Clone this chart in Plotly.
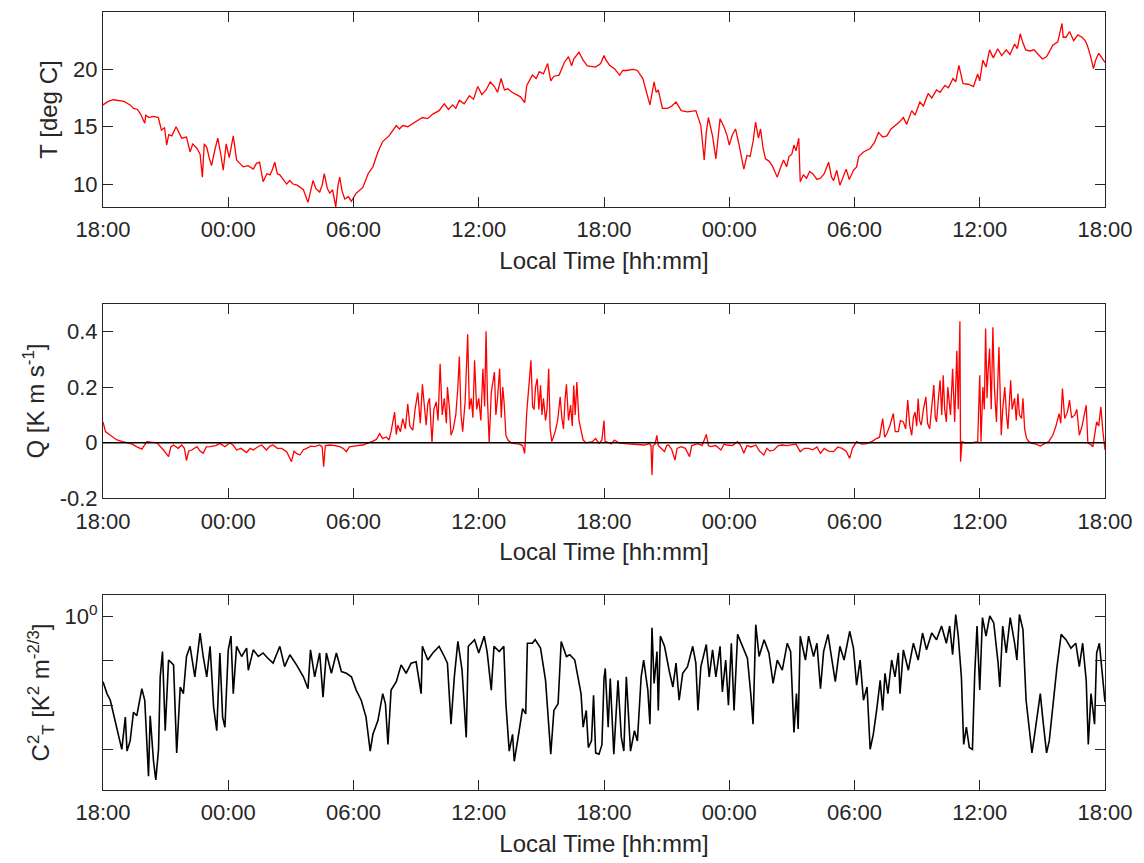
import plotly.graph_objects as go
from plotly.subplots import make_subplots

# ---------------- data (hours since 18:00 of day 1) ----------------
tick_hours = [0, 6, 12, 18, 24, 30, 36, 42, 48]
tick_labels = ["18:00", "00:00", "06:00", "12:00", "18:00", "00:00", "06:00", "12:00", "18:00"]

t_T = [0, 0.25, 0.5, 0.75, 1.0, 1.3, 1.46, 1.65, 1.8, 2.0, 2.05, 2.2, 2.4, 2.65, 2.8, 2.95, 3.05, 3.15, 3.3, 3.5,
       3.6, 3.77, 4.0, 4.17, 4.3, 4.5, 4.65, 4.76, 4.85, 4.97, 5.1, 5.2, 5.35, 5.5, 5.65, 5.76, 5.9, 6.05, 6.24, 6.4,
       6.55, 6.72, 6.95, 7.2, 7.35, 7.5, 7.67, 7.85, 8.0, 8.1, 8.23, 8.35, 8.47, 8.65, 8.8, 8.95, 9.1, 9.3, 9.43, 9.6,
       9.82, 9.95, 10.06, 10.2, 10.38, 10.5, 10.6, 10.75, 10.86, 11.0, 11.15, 11.25, 11.34, 11.45, 11.58, 11.75, 11.9,
       12.13, 12.45, 12.7, 12.93, 13.17, 13.4, 13.7, 14.05, 14.2, 14.36, 14.6, 14.84, 15.05, 15.3, 15.55, 15.8, 16.1,
       16.35, 16.55, 16.75, 16.9, 17.07, 17.3, 17.55, 17.75, 17.95, 18.15, 18.35, 18.55, 18.75, 18.9, 19.07, 19.23,
       19.4, 19.6, 19.8, 20.0, 20.2, 20.3, 20.57, 20.75, 20.9, 21.1, 21.3, 21.45, 21.6, 21.85, 22.1, 22.3, 22.45, 22.55,
       22.8, 23.0, 23.2, 23.6, 23.84, 24.0,
       24.1, 24.27, 24.5, 24.75, 24.9, 25.07, 25.4, 25.6, 25.86, 26.0, 26.2, 26.4, 26.5, 26.6, 26.8, 27.05, 27.25,
       27.45, 27.7, 28.0, 28.4, 28.64, 28.8, 28.9, 29.0, 29.2, 29.36, 29.56, 29.75, 29.9, 30.0, 30.15, 30.3, 30.45,
       30.55, 30.7, 30.85, 31.0, 31.15, 31.26, 31.4, 31.5, 31.62, 31.74, 31.9, 32.06, 32.2, 32.3, 32.45, 32.6, 32.75,
       32.86, 33.0, 33.1, 33.2, 33.33, 33.4, 33.55, 33.7, 33.85, 34.0, 34.2, 34.37, 34.55, 34.76, 34.9, 35.0, 35.15,
       35.3, 35.45, 35.6, 35.75, 35.95, 36.1, 36.2, 36.43, 36.75, 36.95, 37.15, 37.35, 37.55, 37.75, 37.94, 38.15,
       38.34, 38.5, 38.74, 38.9, 39.13, 39.3, 39.53, 39.7, 39.93, 40.1, 40.33, 40.5, 40.72, 40.85, 41.0, 41.2, 41.45,
       41.7, 41.9, 42.0, 42.15, 42.3, 42.47, 42.65, 42.86, 43.05, 43.27, 43.45, 43.67, 43.8, 43.94, 44.05, 44.2, 44.4,
       44.6, 44.8, 45.0, 45.2, 45.5, 45.74, 45.94, 46.0, 46.13, 46.3, 46.5, 46.7, 46.9, 47.05, 47.15, 47.3, 47.45,
       47.55, 47.7, 47.85, 48.0]
temp_c = [16.9, 17.2, 17.35, 17.3, 17.2, 16.9, 16.6, 16.5, 16.1, 15.3, 16.0, 15.8, 15.9, 15.8, 14.7, 14.9, 13.4, 14.3,
          14.2, 15.0, 14.6, 14.0, 14.1, 12.8, 13.5, 13.1, 12.6, 10.6, 13.5, 13.2, 12.2, 11.6, 12.9, 14.0, 12.5, 11.2,
          13.5, 12.3, 14.2, 12.1, 11.8, 11.5, 11.6, 11.3, 11.8, 11.9, 10.2, 10.9, 10.8, 11.2, 11.9, 10.9, 10.8, 10.3,
          10.0, 10.3, 10.0, 9.9, 9.7, 9.5, 8.4, 9.6, 10.3, 9.6, 9.3, 9.9, 10.9, 9.6, 9.2, 9.5, 8.0, 9.8, 10.6, 9.4,
          8.7, 8.9, 8.5, 9.2, 9.7, 10.9, 11.5, 12.8, 13.7, 14.2, 15.1, 14.8, 15.1, 15.0, 15.3, 15.5, 15.8, 15.7, 16.1,
          16.4, 17.0, 16.5, 16.9, 16.6, 17.3, 17.0, 17.7, 17.4, 18.5, 17.8, 18.2, 18.9, 18.5, 18.0, 19.2, 18.2, 18.3,
          18.0, 17.8, 17.6, 17.1, 18.6, 19.5, 19.2, 19.8, 19.6, 20.5, 19.0, 19.4, 19.5, 20.6, 21.1, 20.3, 20.9, 21.5,
          20.8, 20.3, 20.2, 20.5, 21.2,
          20.8, 20.35, 20.06, 19.5, 19.9, 19.9, 20.0, 19.9, 19.2, 18.3, 16.9, 18.9, 18.0, 18.2, 16.6, 16.6, 16.8,
          17.15, 16.4, 16.3, 16.4, 15.1, 12.1, 14.5, 15.8, 14.2, 12.2, 15.7, 14.97, 14.2, 13.4, 14.3, 14.8, 13.6, 12.6,
          11.3, 12.5, 12.4, 13.8, 15.4, 14.0, 14.8, 13.1, 12.2, 12.0, 11.6, 11.0, 10.6, 11.4, 12.1, 11.5, 12.4, 12.6,
          13.4, 12.9, 14.0, 10.2, 10.8, 10.5, 11.1, 10.9, 10.4, 10.5, 10.9, 11.9, 10.6, 10.3, 11.2, 9.9, 10.6, 11.3,
          10.4, 11.2, 11.5, 12.4, 12.8, 13.1, 13.6, 14.5, 14.1, 14.2, 14.8, 15.1, 15.4, 15.8, 15.2, 16.4, 16.0, 17.15,
          16.8, 17.9, 17.5, 18.2, 18.0, 18.6, 18.4, 19.2, 18.9, 20.35, 18.75, 18.7, 18.5, 19.6, 19.0, 20.8, 20.2, 21.7,
          21.0, 21.8, 21.2, 21.7, 21.3, 22.2, 21.8, 23.1, 22.4, 21.7, 21.6, 21.7, 21.3, 20.9, 21.1, 22.1, 22.4, 24.0,
          22.8, 22.8, 23.3, 22.5, 23.0, 22.8, 22.5, 22.1, 21.2, 20.06, 20.8, 21.4, 21.0, 20.6]

t_Q = [0, 0.12, 0.35, 0.67, 0.9, 1.15, 1.4, 1.6, 1.86, 2.1, 2.58, 2.9, 3.14, 3.25, 3.38, 3.6, 3.77, 3.9, 4.0, 4.1,
       4.25, 4.5, 4.65, 4.8, 4.95, 5.13, 5.4, 5.6, 5.84, 6.08, 6.25, 6.4, 6.6, 6.88, 7.05, 7.2, 7.4, 7.6, 7.83, 8.0,
       8.15, 8.35, 8.55, 8.8, 9.03, 9.15, 9.27, 9.43, 9.6, 9.75, 9.95, 10.14, 10.38, 10.5, 10.57, 10.65, 10.86, 11.1,
       11.34, 11.5, 11.66, 11.8, 11.97, 12.2, 12.45, 12.7, 12.93, 13.1, 13.25, 13.4, 13.57, 13.7, 13.8, 13.97, 14.05,
       14.12, 14.25, 14.36, 14.48, 14.6, 14.7, 14.84, 14.95, 15.08, 15.2, 15.3, 15.4, 15.48, 15.56, 15.64, 15.76, 15.85,
       15.96, 16.05, 16.15, 16.25, 16.35, 16.45, 16.5, 16.6, 16.67, 16.78, 16.9, 17.0, 17.07, 17.15, 17.23, 17.35,
       17.47, 17.55, 17.64, 17.72, 17.8, 17.9, 18.0, 18.1, 18.2, 18.28, 18.35, 18.42, 18.5, 18.6, 18.75, 18.82, 18.9,
       19.0, 19.08, 19.15, 19.22, 19.3, 19.4, 19.55, 19.75, 19.94, 20.1, 20.2, 20.3, 20.4, 20.5, 20.58, 20.65, 20.72,
       20.8, 20.88, 20.96, 21.03, 21.1, 21.2, 21.27, 21.35, 21.42, 21.5, 21.58, 21.66, 21.78, 21.9, 21.98, 22.06,
       22.13, 22.2, 22.3, 22.4, 22.48, 22.55, 22.62, 22.7, 22.8, 22.9, 23.0, 23.13, 23.3, 23.44, 23.6, 23.76, 23.9,
       24.0,
       24.05, 24.2, 24.35, 24.5, 24.7, 25.0, 25.46, 25.94, 26.18, 26.25, 26.3, 26.35, 26.45, 26.53, 26.6, 26.75, 26.9,
       27.0, 27.1, 27.25, 27.4, 27.5, 27.7, 27.9, 28.1, 28.2, 28.5, 28.7, 28.9, 29.0, 29.1, 29.35, 29.6, 29.75, 29.9,
       30.15, 30.4, 30.55, 30.7, 30.85, 31.05, 31.27, 31.45, 31.66, 31.8, 31.95, 32.14, 32.35, 32.54, 32.75, 33.0,
       33.2, 33.4, 33.6, 33.8, 34.0, 34.2, 34.37, 34.55, 34.75, 35.0, 35.2, 35.4, 35.6, 35.77, 35.9, 36.1, 36.35, 36.6,
       36.85, 37.07, 37.2, 37.35, 37.45, 37.55, 37.7, 37.86, 37.95, 38.1, 38.2, 38.34, 38.45, 38.55, 38.65, 38.74,
       38.82, 38.9, 38.98, 39.05, 39.12, 39.2, 39.3, 39.42, 39.5, 39.6, 39.7, 39.8, 39.87, 39.93, 40.02, 40.1, 40.18,
       40.25, 40.32, 40.4, 40.47, 40.53, 40.6, 40.7, 40.75, 40.8, 40.9, 40.97, 41.05, 41.08, 41.15, 41.3, 41.6, 41.9,
       42.0, 42.06, 42.15, 42.22, 42.28, 42.35, 42.4, 42.47, 42.55, 42.63, 42.7, 42.8, 42.92, 42.98, 43.03, 43.1,
       43.2, 43.28, 43.35, 43.48, 43.55, 43.67, 43.75, 43.83, 43.9, 44.0, 44.07, 44.15, 44.24, 44.35, 44.5, 44.7,
       44.9, 45.1, 45.3, 45.5, 45.65, 45.8, 45.88, 45.96, 46.07, 46.2, 46.3, 46.4, 46.55, 46.65, 46.77, 46.9, 47.0,
       47.1, 47.18, 47.3, 47.42, 47.5, 47.6, 47.7, 47.8, 47.9, 48.0]
q_flux = [0.075, 0.04, 0.027, 0.01, 0.005, 0.0, -0.005, -0.014, -0.023, 0.004, 0.0, -0.026, -0.05, -0.015, -0.008,
          -0.02, -0.008, -0.02, -0.064, -0.03, -0.026, -0.014, -0.03, -0.038, -0.015, -0.014, -0.01, -0.002, -0.014,
          0.0, -0.01, -0.026, -0.02, -0.035, -0.02, -0.026, -0.015, -0.008, -0.026, -0.012, -0.008, -0.02, -0.02,
          -0.032, -0.068, -0.03, -0.038, -0.044, -0.025, -0.02, -0.012, -0.014, -0.008, -0.015, -0.086, -0.01, -0.008,
          -0.01, -0.014, -0.02, -0.032, -0.015, -0.014, -0.01, -0.008, -0.002, 0.006, 0.012, 0.033, 0.015, 0.021,
          0.01, 0.04, 0.11, 0.03, 0.063, 0.04, 0.087, 0.05, 0.14, 0.06, 0.045, 0.12, 0.18, 0.07, 0.21, 0.11, 0.063,
          0.14, 0.16, 0.0, 0.12, 0.147, 0.08, 0.284, 0.1, 0.16, 0.07, 0.2, 0.12, 0.027, 0.05, 0.1, 0.2, 0.31, 0.1,
          0.04, 0.15, 0.39, 0.12, 0.16, 0.09, 0.296, 0.12, 0.16, 0.08, 0.266, 0.13, 0.40, 0.15, 0.0, 0.18, 0.254, 0.1,
          0.16, 0.266, 0.09, 0.2, 0.14, 0.027, 0.01, 0.0, -0.003, -0.005, -0.01, -0.038, 0.11, 0.2, 0.296, 0.13, 0.12,
          0.2, 0.23, 0.12, 0.206, 0.1, 0.16, 0.08, 0.12, 0.266, 0.05, 0.004, 0.02, 0.04, 0.08, 0.165, 0.09, 0.05, 0.15,
          0.21, 0.08, 0.135, 0.06, 0.206, 0.1, 0.218, 0.08, 0.04, 0.01, 0.0, 0.002, 0.004, 0.015, -0.002, 0.01, 0.08,
          0.005, 0.0, -0.003, 0.01, 0.0, -0.003, -0.005, -0.008, -0.003, -0.01, -0.116, -0.01, -0.005, 0.027, -0.01,
          -0.02, -0.032, -0.01, -0.008, -0.025, -0.062, -0.02, -0.014, -0.02, -0.05, -0.01, -0.003, -0.01, 0.03,
          -0.01, -0.014, -0.01, -0.026, -0.005, -0.008, -0.01, 0.004, -0.01, -0.038, -0.01, -0.015, -0.008, -0.03,
          -0.044, -0.02, -0.03, -0.026, -0.01, -0.008, -0.01, -0.008, -0.005, -0.032, -0.02, -0.02, -0.025, -0.015,
          -0.038, -0.02, -0.03, -0.032, -0.015, -0.02, -0.03, -0.056, -0.02, 0.004, -0.005, -0.003, 0.005, 0.016,
          0.02, 0.087, 0.02, 0.033, 0.063, 0.105, 0.04, 0.04, 0.08, 0.075, 0.05, 0.153, 0.06, 0.027, 0.09, 0.11,
          0.06, 0.159, 0.08, 0.063, 0.12, 0.165, 0.07, 0.05, 0.14, 0.207, 0.09, 0.075, 0.16, 0.224, 0.1, 0.242, 0.12,
          0.075, 0.2, 0.159, 0.1, 0.266, 0.12, 0.075, 0.33, 0.12, 0.436, -0.068, 0.004, 0.0, 0.0, 0.004, 0.242, 0.004,
          0.2, 0.12, 0.41, 0.16, 0.255, 0.338, 0.12, 0.415, 0.2, 0.075, 0.344, 0.15, 0.027, 0.12, 0.2, 0.1, 0.05,
          0.224, 0.12, 0.16, 0.08, 0.177, 0.1, 0.087, 0.16, 0.05, 0.016, 0.004, -0.002, -0.005, -0.012, -0.003,
          0.004, 0.027, 0.06, 0.105, 0.07, 0.195, 0.087, 0.11, 0.153, 0.09, 0.1, 0.12, 0.027, 0.06, 0.1, 0.135,
          -0.002, -0.005, -0.014, 0.03, 0.075, 0.06, 0.129, 0.04, -0.026]

t_C = [0, 0.19, 0.35, 0.59, 0.75, 0.9, 1.07, 1.15, 1.3, 1.46, 1.62, 1.86, 2.0, 2.18, 2.26, 2.42, 2.53, 2.66, 2.74,
       2.85, 2.98, 3.14, 3.38, 3.53, 3.7, 3.85, 4.0, 4.17, 4.4, 4.65, 4.8, 4.97, 5.13, 5.3, 5.45, 5.6, 5.73, 5.84,
       6.0, 6.13, 6.24, 6.4, 6.64, 6.88, 6.96, 7.2, 7.44, 7.67, 7.9, 8.15, 8.47, 8.7, 8.95, 9.27, 9.6, 9.82, 9.94,
       10.14, 10.38, 10.54, 10.7, 10.94, 11.18, 11.42, 11.66, 11.9, 12.13, 12.37, 12.6, 12.8, 12.93, 13.17, 13.4,
       13.53, 13.65, 13.8, 14.05, 14.28, 14.52, 14.76, 15.0, 15.24, 15.3, 15.56, 15.8, 16.1, 16.35, 16.5, 16.67,
       16.83, 17.0, 17.2, 17.4, 17.5, 17.8, 18.0, 18.26, 18.4, 18.6, 18.73, 18.98, 19.2, 19.3, 19.46, 19.62, 19.7,
       19.86, 20.0, 20.1, 20.25, 20.33, 20.57, 20.7, 20.96, 21.2, 21.45, 21.6, 21.8, 21.95, 22.2, 22.36, 22.6, 22.73,
       22.9, 23.0, 23.15, 23.25, 23.4, 23.5, 23.6, 23.76, 23.9, 24.0,
       24.06, 24.2, 24.3, 24.47, 24.67, 24.83, 24.95, 25.07, 25.27, 25.46, 25.6, 25.78, 25.9, 26.1, 26.2, 26.3, 26.4,
       26.54, 26.6, 26.7, 26.9, 27.13, 27.3, 27.45, 27.6, 27.77, 28.0, 28.25, 28.4, 28.5, 28.64, 28.9, 29.04, 29.2,
       29.36, 29.56, 29.67, 29.83, 29.96, 30.1, 30.23, 30.4, 30.63, 30.87, 31.03, 31.14, 31.27, 31.43, 31.67, 31.9,
       32.1, 32.3, 32.54, 32.78, 32.94, 33.1, 33.22, 33.3, 33.4, 33.65, 33.8, 34.04, 34.2, 34.37, 34.52, 34.73, 34.92,
       35.08, 35.3, 35.5, 35.77, 35.95, 36.1, 36.27, 36.43, 36.6, 36.75, 36.9, 37.07, 37.23, 37.35, 37.46, 37.6,
       37.78, 37.94, 38.1, 38.18, 38.34, 38.58, 38.82, 39.05, 39.26, 39.45, 39.7, 39.93, 40.17, 40.4, 40.56, 40.7,
       40.85, 40.97, 41.12, 41.23, 41.36, 41.5, 41.65, 41.76, 41.87, 42.0, 42.13, 42.3, 42.48, 42.67, 42.88, 42.96,
       43.1, 43.27, 43.46, 43.67, 43.78, 43.9, 44.07, 44.22, 44.38, 44.5, 44.63, 44.78, 44.9, 45.03, 45.2, 45.33,
       45.5, 45.7, 45.9, 46.13, 46.37, 46.6, 46.77, 46.93, 47.1, 47.2, 47.33, 47.5, 47.6, 47.73, 47.9, 48.0]
ct2_exponent = [-1.47, -1.74, -1.89, -2.35, -2.66, -3.0, -2.27, -3.04, -2.81, -2.16, -2.24, -1.63, -1.89, -3.61,
                -2.24, -3.27, -3.69, -3.0, -1.36, -0.79, -2.58, -0.98, -1.09, -3.08, -1.59, -1.74, -0.9, -0.67,
                -1.36, -0.37, -0.9, -1.36, -0.67, -2.05, -2.58, -0.82, -2.27, -2.5, -0.75, -0.44, -1.74, -0.67,
                -0.9, -0.71, -1.21, -0.75, -0.9, -0.82, -0.94, -1.05, -0.67, -1.13, -0.86, -1.09, -1.36, -1.63,
                -0.75, -1.36, -0.82, -1.82, -0.82, -1.28, -0.82, -1.24, -1.28, -1.36, -1.66, -1.89, -2.27, -3.04,
                -2.66, -2.35, -1.74, -1.97, -2.89, -1.66, -1.47, -1.09, -1.28, -1.05, -1.02, -1.74, -0.67, -0.98,
                -0.82, -0.67, -0.9, -1.05, -2.43, -1.36, -0.56, -1.21, -2.73, -0.67, -0.52, -0.82, -0.44, -0.79,
                -1.66, -0.67, -0.79, -0.67, -1.97, -3.04, -2.66, -3.27, -2.81, -2.35, -2.08, -2.2, -0.6, -0.6,
                -0.52, -0.71, -1.44, -3.11, -2.12, -1.97, -0.56, -0.9, -0.86, -0.98, -1.28, -1.74, -2.5, -2.12,
                -2.96, -2.81, -1.78, -3.08, -3.11, -2.9, -1.4,
                -1.17, -2.5, -1.4, -3.11, -1.44, -2.73, -3.04, -1.36, -3.04, -2.58, -2.81, -1.36, -0.98, -1.66,
                -2.43, -0.25, -1.51, -0.79, -2.12, -0.44, -0.67, -1.24, -1.59, -1.05, -1.89, -1.28, -1.13, -0.67,
                -1.05, -2.12, -1.13, -0.63, -1.36, -0.75, -1.36, -0.67, -1.7, -0.98, -2.0, -0.6, -2.12, -0.4, -0.67,
                -0.94, -1.74, -2.43, -0.18, -0.9, -0.52, -0.82, -1.51, -0.98, -1.21, -0.6, -0.79, -2.62, -1.74,
                -2.54, -0.44, -0.98, -0.44, -0.9, -0.6, -1.63, -0.79, -0.4, -0.98, -1.47, -0.67, -0.98, -0.33,
                -0.71, -1.55, -0.98, -1.89, -1.59, -3.0, -2.66, -2.08, -1.44, -2.12, -1.28, -1.74, -0.98, -1.36,
                -0.82, -1.74, -0.75, -1.21, -0.6, -0.98, -0.37, -0.75, -0.37, -0.52, -0.21, -0.6, -0.21, -0.86,
                0.05, -0.44, -1.36, -2.89, -2.5, -2.96, -3.0, -1.28, -0.21, -1.66, -0.02, -0.44, 0.02, -0.14,
                -1.05, -1.59, -0.21, -0.82, -0.02, -0.6, -0.98, 0.05, -0.29, -1.89, -2.5, -3.08, -2.66, -2.12,
                -1.74, -2.35, -3.08, -2.81, -2.05, -1.13, -0.4, -0.52, -0.71, -0.6, -1.13, -0.6, -1.44, -2.89,
                -1.74, -2.43, -0.82, -0.6, -1.44, -1.93]
ct2 = [10 ** e for e in ct2_exponent]

# ---------------- figure ----------------
INK = "#262626"
FONT = "Liberation Sans, Arial, Helvetica, sans-serif"

fig = make_subplots(rows=3, cols=1)
fig.add_trace(go.Scatter(x=t_T, y=temp_c, mode="lines", line=dict(color="#ff0000", width=1.3),
                         showlegend=False), row=1, col=1)
fig.add_trace(go.Scatter(x=t_Q, y=q_flux, mode="lines", line=dict(color="#ff0000", width=1.3),
                         showlegend=False), row=2, col=1)
fig.add_hline(y=0, line=dict(color="#000000", width=1.4), row=2, col=1)
fig.add_trace(go.Scatter(x=t_C, y=ct2, mode="lines", line=dict(color="#000000", width=1.6),
                         showlegend=False), row=3, col=1)

common_axis = dict(showline=True, linecolor=INK, linewidth=1, mirror="ticks", ticks="inside",
                   ticklen=10, tickcolor=INK, tickwidth=1, showgrid=False, zeroline=False,
                   tickfont=dict(family=FONT, size=22, color=INK))

domains = [[0.7494, 1.0], [0.3747, 0.6253], [0.0, 0.2506]]
for i in range(3):
    xa = "xaxis" if i == 0 else f"xaxis{i+1}"
    ya = "yaxis" if i == 0 else f"yaxis{i+1}"
    fig.layout[xa].update(common_axis, range=[0, 48], tickvals=tick_hours, ticktext=tick_labels,
                          ticklabelstandoff=3,
                          title=dict(text="Local Time [hh:mm]", font=dict(family=FONT, size=24, color=INK),
                                     standoff=10))
    fig.layout[ya].update(common_axis, domain=domains[i])

fig.layout.yaxis.update(range=[8, 25], tickvals=[10, 15, 20, 25], ticktext=["10", "15", "20", "25"],
                        title=dict(text="T [deg C]", font=dict(family=FONT, size=24, color=INK), standoff=8))
fig.layout.yaxis2.update(range=[-0.2, 0.5], tickvals=[-0.2, 0, 0.2, 0.4], ticktext=["-0.2", "0", "0.2", "0.4"],
                         title=dict(text="Q [K m s<sup>-1</sup>]", font=dict(family=FONT, size=24, color=INK),
                                    standoff=8))
fig.layout.yaxis3.update(type="log", range=[-3.92, 0.49], tickvals=[1, 0.1, 0.01, 0.001],
                         ticktext=["10<sup>0</sup>", "", "", ""],
                         title=dict(text="C<sup>2</sup><sub>T</sub> [K<sup>2</sup> m<sup>-2/3</sup>]",
                                    font=dict(family=FONT, size=24, color=INK), standoff=8))

fig.update_layout(width=1144, height=863, margin=dict(l=103, r=37, t=11, b=70),
                  paper_bgcolor="white", plot_bgcolor="white", font=dict(family=FONT, color=INK))

fig.write_html("out.html")
